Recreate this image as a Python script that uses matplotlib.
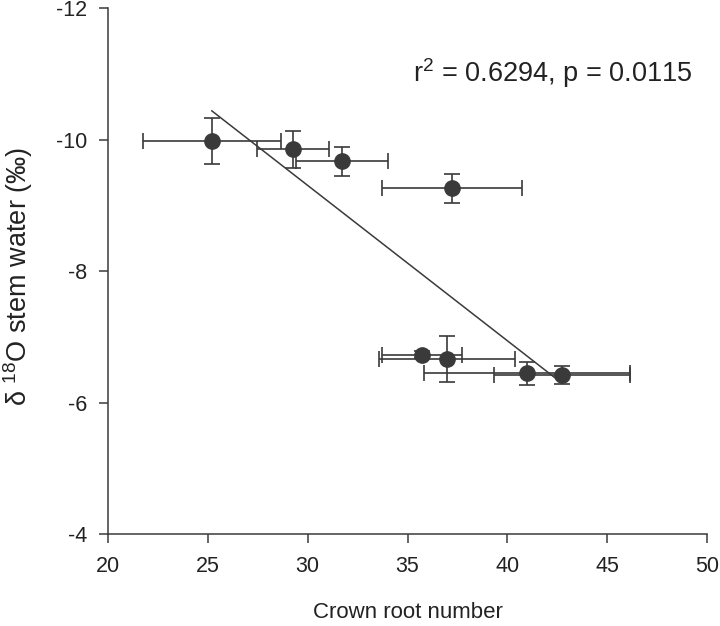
import numpy as np
import matplotlib
matplotlib.use("Agg")
import matplotlib.pyplot as plt

plt.rcParams['font.family'] = ['Liberation Sans', 'DejaVu Sans']
plt.rcParams['axes.unicode_minus'] = False
plt.rcParams['mathtext.fontset'] = 'custom'
plt.rcParams['mathtext.rm'] = 'Liberation Sans'
plt.rcParams['mathtext.it'] = 'Liberation Sans'

# Data
crown_root = [25.2, 29.25, 31.73, 37.23, 35.72, 36.99, 40.97, 42.72]
crown_root_err = [3.45, 1.8, 2.3, 3.5, 2.0, 3.4, 5.15, 3.4]
d18o = [-9.98, -9.855, -9.67, -9.26, -6.73, -6.657, -6.444, -6.42]
d18o_err = [0.35, 0.28, 0.22, 0.22, 0.05, 0.35, 0.18, 0.14]
x_ticks = [20, 25, 30, 35, 40, 45, 50]
y_ticks = [-4, -6, -8, -10, -12]
annotation = "r$^{2}$ = 0.6294, p = 0.0115"

col = '#3a3a3a'
fig = plt.figure(figsize=(7.2, 6.26), dpi=100)
ax = fig.add_axes([0.15, 0.147, 0.832, 0.84])

# regression line
xa = np.array(crown_root)
slope, intercept = np.polyfit(xa, np.array(d18o), 1)
xl = np.array([xa.min(), xa.max()])
ax.plot(xl, slope * xl + intercept, color=col, lw=1.1, zorder=2)

ax.errorbar(crown_root, d18o, xerr=crown_root_err, yerr=d18o_err, fmt='o',
            color=col, ecolor=col, markersize=11, elinewidth=1.2,
            capsize=6, capthick=1.2, zorder=3)

ax.set_xlim(20, 50)
ax.set_ylim(-4, -12)
ax.set_xticks(x_ticks)
ax.set_yticks(y_ticks)
for s in ['top', 'right']:
    ax.spines[s].set_visible(False)
for s in ['left', 'bottom']:
    ax.spines[s].set_color(col)
    ax.spines[s].set_linewidth(1.1)
ax.tick_params(direction='out', length=6.5, width=1.1, color=col,
               labelsize=15.5, labelcolor='#222222')
ax.tick_params(axis='x', pad=9.6)
ax.tick_params(axis='y', pad=8.6)

ax.set_xlabel('Crown root number', fontsize=16, color='#222222', labelpad=18)
ax.set_ylabel('δ $^{18}$O stem water (‰)', fontsize=19.5, color='#222222')
ax.yaxis.set_label_coords(-0.122, 0.489)
ax.text(0.975, 0.859, annotation, transform=ax.transAxes, ha='right',
        va='baseline', fontsize=19.5, color='#222222')

fig.savefig('out.png', dpi=100)
